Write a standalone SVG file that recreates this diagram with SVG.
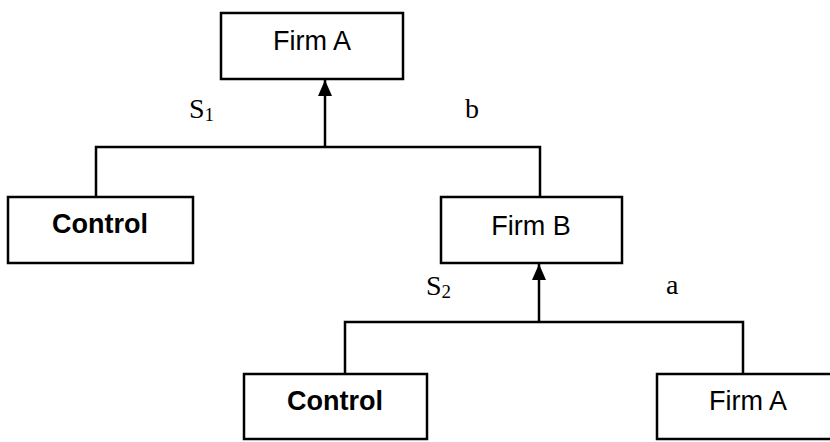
<svg xmlns="http://www.w3.org/2000/svg" width="830" height="442" viewBox="0 0 830 442">
  <style>
    .box { fill: #fff; stroke: #000; stroke-width: 2.5; }
    .lbl { font-family: "Liberation Sans", Arial, sans-serif; font-size: 27px; fill: #000; text-anchor: middle; }
    .bold { font-weight: bold; }
    .wire { fill: none; stroke: #000; stroke-width: 2.5; }
    .var { font-family: "Liberation Serif", "Times New Roman", serif; font-size: 28px; fill: #000; }
    .sub { font-size: 19px; }
  </style>
  <defs>
    <marker id="arrow" viewBox="0 0 16 14" refX="16" refY="7" markerWidth="16" markerHeight="14" markerUnits="userSpaceOnUse" orient="auto">
      <path d="M0,0 L16,7 L0,14 Z" fill="#000"/>
    </marker>
  </defs>

  <!-- connectors -->
  <g id="connectors">
    <path class="wire" d="M96,197 V147 H540 V197"/>
    <line class="wire" x1="325" y1="147" x2="325" y2="80" marker-end="url(#arrow)"/>
    <path class="wire" d="M345,374 V322 H743 V374"/>
    <line class="wire" x1="539" y1="322" x2="539" y2="264" marker-end="url(#arrow)"/>
  </g>

  <!-- edge labels -->
  <g id="edge-labels">
    <text class="var" x="189" y="118">S<tspan class="sub" dy="3">1</tspan></text>
    <text class="var" x="465" y="118">b</text>
    <text class="var" x="426" y="295">S<tspan class="sub" dy="3">2</tspan></text>
    <text class="var" x="666" y="294">a</text>
  </g>

  <g id="firmA-top">
    <rect class="box" x="221" y="13" width="182" height="66"/>
    <text class="lbl" x="312" y="50">Firm A</text>
  </g>

  <g id="control-top">
    <rect class="box" x="8" y="197" width="185" height="66"/>
    <text class="lbl bold" x="100" y="233">Control</text>
  </g>

  <g id="firmB">
    <rect class="box" x="441" y="197" width="181" height="66"/>
    <text class="lbl" x="531" y="235">Firm B</text>
  </g>

  <g id="control-bottom">
    <rect class="box" x="244" y="374" width="183" height="65"/>
    <text class="lbl bold" x="335" y="410">Control</text>
  </g>

  <g id="firmA-bottom">
    <rect class="box" x="657" y="374" width="183" height="65"/>
    <text class="lbl" x="748" y="410">Firm A</text>
  </g>
</svg>
